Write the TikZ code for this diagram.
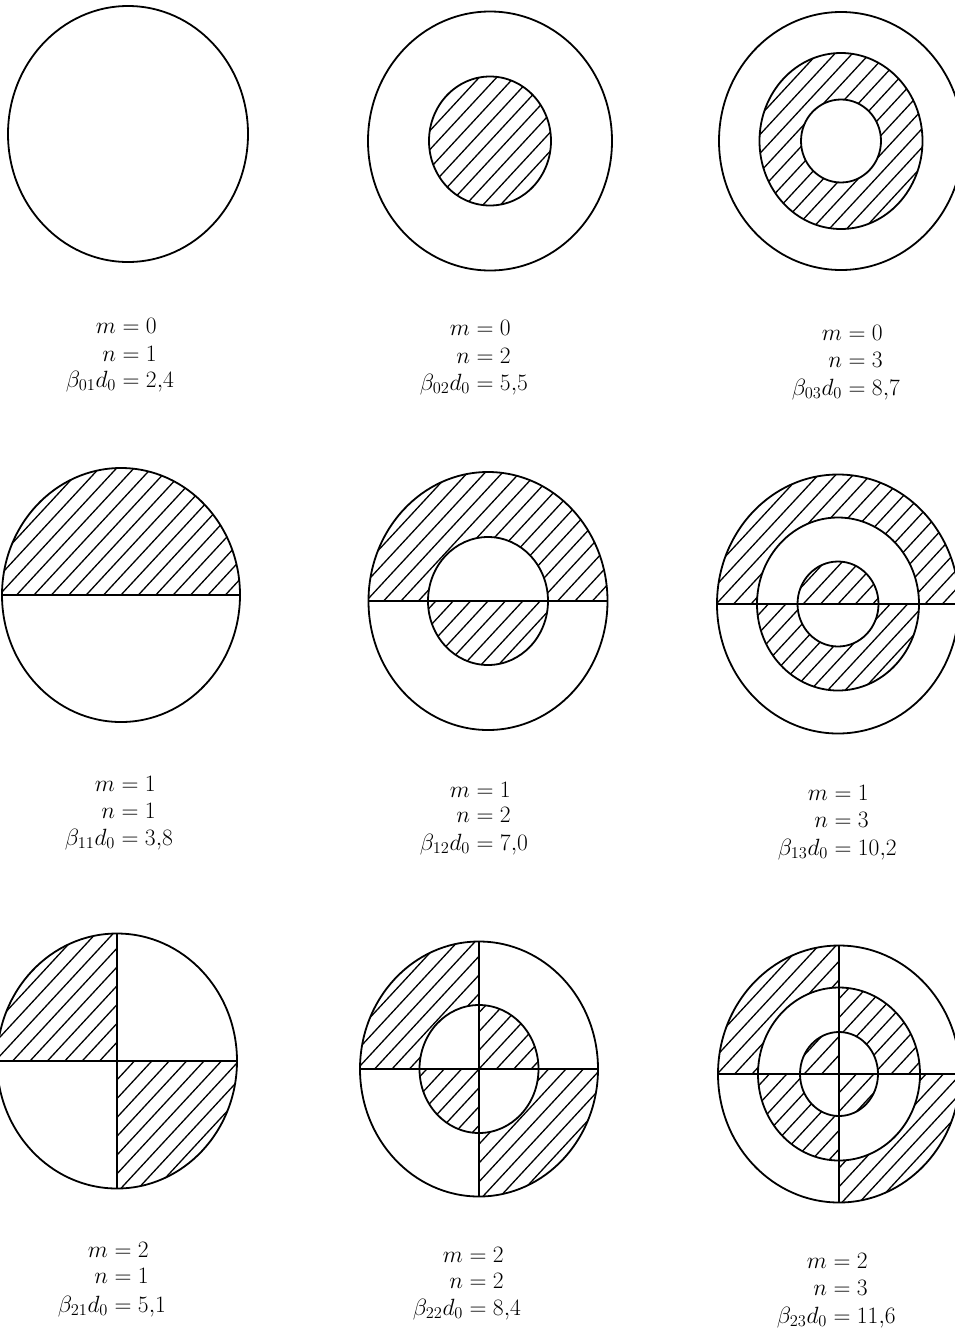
\documentclass[tikz,border=0pt]{standalone}
\usepackage{fix-cm}
\tikzset{
  outline/.style={line width=1.8pt},
  hatchline/.style={line width=1.3pt},
  lab/.style={anchor=base, inner sep=0pt, font=\fontsize{23.5}{28}\selectfont},
}
\newcommand\hatchfill[2]{%
  \foreach \k in {-13,...,13}{%
    \draw[hatchline] ({#1+(\k-20)*17.4},{#2+20*18.8}) -- ({#1+(\k+20)*17.4},{#2-20*18.8});}}
\newcommand\hregion[4]{%
  \begin{scope}[even odd rule]\clip #3; \clip #4; \hatchfill{#1}{#2}\end{scope}}
\newcommand\eqline[5]{%
  \node[lab] (#1) at (#2,#3) {\llap{$#4\mskip\thickmuskip$}$=$\rlap{$\mskip\thickmuskip #5$}};}
\begin{document}
\begin{tikzpicture}[x=1pt,y=-1pt]
\useasboundingbox (0,0) rectangle (955,1331);
% centres
\coordinate (c01) at (128,134);
\coordinate (c02) at (490,141);
\coordinate (c03) at (841,141);
\coordinate (c11) at (121,595);
\coordinate (c12) at (488,601);
\coordinate (c13) at (838,604);
\coordinate (c21) at (117,1061);
\coordinate (c22) at (479,1069);
\coordinate (c23) at (839,1074);
% ---------- hatching ----------
% m=0 n=2
\hregion{490}{141}{(0,0) rectangle (955,1331)}{(c02) ellipse[x radius=61pt,y radius=64.5pt]}
% m=0 n=3
\hregion{841}{141}{(0,0) rectangle (955,1331)}{(c03) ellipse[x radius=81.5pt,y radius=88pt] (c03) ellipse[x radius=40pt,y radius=41.5pt]}
% m=1 n=1
\hregion{121}{595}{(-10,440) rectangle (260,595)}{(c11) ellipse[x radius=119pt,y radius=127pt]}
% m=1 n=2
\hregion{488}{601}{(350,450) rectangle (630,601)}{(c12) ellipse[x radius=119.5pt,y radius=129pt] (c12) ellipse[x radius=60pt,y radius=64pt]}
\hregion{488}{601}{(350,601) rectangle (630,760)}{(c12) ellipse[x radius=60pt,y radius=64pt]}
% m=1 n=3
\hregion{838}{604}{(700,450) rectangle (980,604)}{(c13) ellipse[x radius=121pt,y radius=129.5pt] (c13) ellipse[x radius=81pt,y radius=86.5pt]}
\hregion{838}{604}{(700,604) rectangle (980,760)}{(c13) ellipse[x radius=81pt,y radius=86.5pt] (c13) ellipse[x radius=40.5pt,y radius=42.5pt]}
\hregion{838}{604}{(700,450) rectangle (980,604)}{(c13) ellipse[x radius=40.5pt,y radius=42.5pt]}
% m=2 n=1
\hregion{117}{1061}{(-20,900) rectangle (117,1061)}{(c21) ellipse[x radius=120pt,y radius=127.5pt]}
\hregion{117}{1061}{(117,1061) rectangle (260,1220)}{(c21) ellipse[x radius=120pt,y radius=127.5pt]}
% m=2 n=2
\hregion{479}{1069}{(340,900) rectangle (479,1069)}{(c22) ellipse[x radius=119pt,y radius=127.5pt] (c22) ellipse[x radius=59.5pt,y radius=64pt]}
\hregion{479}{1069}{(479,1069) rectangle (620,1220)}{(c22) ellipse[x radius=119pt,y radius=127.5pt] (c22) ellipse[x radius=59.5pt,y radius=64pt]}
\hregion{479}{1069}{(479,900) rectangle (620,1069)}{(c22) ellipse[x radius=59.5pt,y radius=64pt]}
\hregion{479}{1069}{(340,1069) rectangle (479,1220)}{(c22) ellipse[x radius=59.5pt,y radius=64pt]}
% m=2 n=3
\hregion{839}{1074}{(700,900) rectangle (839,1074)}{(c23) ellipse[x radius=121pt,y radius=128.5pt] (c23) ellipse[x radius=81pt,y radius=86.5pt]}
\hregion{839}{1074}{(839,1074) rectangle (980,1220)}{(c23) ellipse[x radius=121pt,y radius=128.5pt] (c23) ellipse[x radius=81pt,y radius=86.5pt]}
\hregion{839}{1074}{(839,900) rectangle (980,1074)}{(c23) ellipse[x radius=81pt,y radius=86.5pt] (c23) ellipse[x radius=39pt,y radius=42pt]}
\hregion{839}{1074}{(700,1074) rectangle (839,1220)}{(c23) ellipse[x radius=81pt,y radius=86.5pt] (c23) ellipse[x radius=39pt,y radius=42pt]}
\hregion{839}{1074}{(700,900) rectangle (839,1074)}{(c23) ellipse[x radius=39pt,y radius=42pt]}
\hregion{839}{1074}{(839,1074) rectangle (980,1220)}{(c23) ellipse[x radius=39pt,y radius=42pt]}
% ---------- outlines ----------
\draw[outline] (c01) ellipse[x radius=120pt,y radius=128pt];
\draw[outline] (c02) ellipse[x radius=122pt,y radius=129.5pt] (c02) ellipse[x radius=61pt,y radius=64.5pt];
\draw[outline] (c03) ellipse[x radius=122pt,y radius=129pt] (c03) ellipse[x radius=81.5pt,y radius=88pt] (c03) ellipse[x radius=40pt,y radius=41.5pt];
\draw[outline] (c11) ellipse[x radius=119pt,y radius=127pt];
\draw[outline] (c11) ++(-119,0) -- ++(238,0);
\draw[outline] (c12) ellipse[x radius=119.5pt,y radius=129pt] (c12) ellipse[x radius=60pt,y radius=64pt];
\draw[outline] (c12) ++(-119.5,0) -- ++(239,0);
\draw[outline] (c13) ellipse[x radius=121pt,y radius=129.5pt] (c13) ellipse[x radius=81pt,y radius=86.5pt] (c13) ellipse[x radius=40.5pt,y radius=42.5pt];
\draw[outline] (c13) ++(-121,0) -- ++(242,0);
\draw[outline] (c21) ellipse[x radius=120pt,y radius=127.5pt];
\draw[outline] (c21) ++(-120,0) -- ++(240,0);
\draw[outline] (c21) ++(0,-127.5) -- ++(0,255);
\draw[outline] (c22) ellipse[x radius=119pt,y radius=127.5pt] (c22) ellipse[x radius=59.5pt,y radius=64pt];
\draw[outline] (c22) ++(-119,0) -- ++(238,0);
\draw[outline] (c22) ++(0,-127.5) -- ++(0,255);
\draw[outline] (c23) ellipse[x radius=121pt,y radius=128.5pt] (c23) ellipse[x radius=81pt,y radius=86.5pt] (c23) ellipse[x radius=39pt,y radius=42pt];
\draw[outline] (c23) ++(-121,0) -- ++(242,0);
\draw[outline] (c23) ++(0,-128.5) -- ++(0,257);
% ---------- labels ----------
\eqline{l01m}{131}{333}{m}{0}
\eqline{l01n}{131}{361}{n}{1}
\eqline{l01b}{131}{387}{\beta_{01}d_0}{2{,}4}
\eqline{l02m}{485}{335}{m}{0}
\eqline{l02n}{485}{363}{n}{2}
\eqline{l02b}{485}{390}{\beta_{02}d_0}{5{,}5}
\eqline{l03m}{857}{340}{m}{0}
\eqline{l03n}{857}{367}{n}{3}
\eqline{l03b}{857}{395}{\beta_{03}d_0}{8{,}7}
\eqline{l11m}{130}{791}{m}{1}
\eqline{l11n}{130}{818}{n}{1}
\eqline{l11b}{130}{845}{\beta_{11}d_0}{3{,}8}
\eqline{l12m}{485}{797}{m}{1}
\eqline{l12n}{485}{822}{n}{2}
\eqline{l12b}{485}{850}{\beta_{12}d_0}{7{,}0}
\eqline{l13m}{843}{800}{m}{1}
\eqline{l13n}{843}{827}{n}{3}
\eqline{l13b}{843}{855}{\beta_{13}d_0}{10{,}2}
\eqline{l21m}{123}{1257}{m}{2}
\eqline{l21n}{123}{1283}{n}{1}
\eqline{l21b}{123}{1312}{\beta_{21}d_0}{5{,}1}
\eqline{l22m}{478}{1262}{m}{2}
\eqline{l22n}{478}{1288}{n}{2}
\eqline{l22b}{478}{1315}{\beta_{22}d_0}{8{,}4}
\eqline{l23m}{842}{1268}{m}{2}
\eqline{l23n}{842}{1295}{n}{3}
\eqline{l23b}{842}{1323}{\beta_{23}d_0}{11{,}6}
\end{tikzpicture}
\end{document}
